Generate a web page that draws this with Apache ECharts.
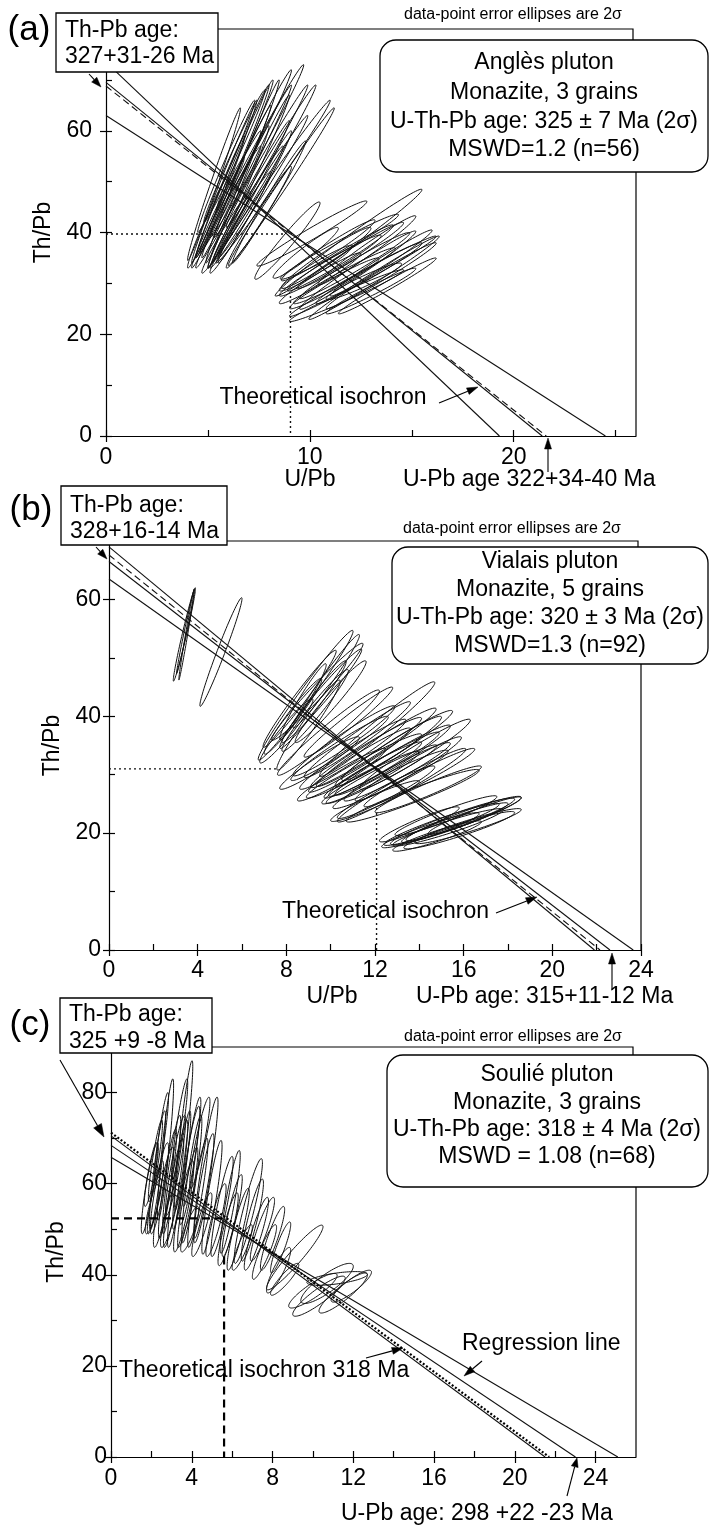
<!DOCTYPE html>
<html><head><meta charset="utf-8">
<script src="https://cdn.jsdelivr.net/npm/echarts/dist/echarts.min.js"></script>
<style>html,body{margin:0;padding:0;background:#fff;}#c{width:710px;height:1526px;}</style>
</head><body><div id="c"></div>
<script>
// ---------- DATA ----------
// error ellipses: [U/Pb centre, Th/Pb centre, U/Pb half-extent, Th/Pb half-extent, correlation]
const ellipsesA = [
 [5.3,49.5,1.3,15,0.99],[5.8,50,1.6,16,0.993],[6.2,52,1.8,17,0.993],[6.7,52,1.8,18,0.993],
 [7.4,56,2.3,17,0.994],[7.0,50,2.0,17,0.993],[6.5,47,1.5,14,0.99],[7.8,52,2.5,17,0.994],
 [8.2,50,2.8,16,0.995],[8.6,49,2.6,15.5,0.995],[6.0,45,1.6,12,0.99],[5.5,44,1.3,11,0.99],
 [6.9,45,1.8,12,0.99],[7.3,47,1.8,13,0.99],[6.3,55,1.5,13,0.99],[7.6,60,1.5,12,0.99],
 [6.8,57,1.4,13,0.99],[5.9,40,1.2,8,0.98],[7.5,43,1.6,10,0.985],[8.0,46,1.8,12,0.99],
 [5.0,42,1.0,9,0.98],[6.6,42,1.5,10,0.985],[5.6,47,1.2,12,0.99],[7.2,54,1.9,15,0.993],
 [6.4,50,1.7,15,0.993],[7.1,48,1.9,14,0.993],[5.9,53,1.4,13,0.99],[7.9,55,2.0,14,0.993],
 [6.1,48,1.5,12,0.99],[7.7,49,2.2,14,0.993],
 [8.9,38.4,1.6,7.6,0.97],[11.9,38,3.6,10.5,0.99],[12.6,31.4,3.6,7.9,0.99],[10.1,39.8,2.7,6.4,0.98],
 [11.45,37.2,2.9,6.4,0.98],[12.35,32.6,2.85,7.7,0.985],[13.15,31.1,3.2,8.2,0.99],[12.65,30.4,1.85,3.6,0.95],
 [11.8,27.6,2.8,5.1,0.98],[10.8,35,2.2,6,0.97],[11,33.5,2.5,6,0.975],[10.5,31,2.0,5,0.97],
 [12.0,35.5,2.6,6.5,0.98],[13.5,34,2.5,6.5,0.985],[9.8,36,1.6,5,0.96],[11.2,30,2.2,5,0.97],
 [13.8,29.5,2.4,5.5,0.985],[12.8,36.5,2.4,6.8,0.98],[10.3,33,1.8,4.5,0.96],[13.0,28.5,2.2,4.5,0.975],
 [11.5,35,2.6,6.5,0.98],[12.2,33.5,2.7,6.5,0.98],[10.9,36.5,2.3,6,0.975],[12.9,32,2.6,6,0.98],
 [11.7,31.5,2.5,5.5,0.975],[13.5,31.5,2.7,6.5,0.985]
];
const ellipsesB = [
 [3.4,54,0.5,8,0.98],[3.45,54.5,0.4,7.2,0.99],[3.5,54,0.35,7.8,0.99],[5.05,51,0.95,9.3,0.98],
 [8.87,43.6,2.14,11.1,0.985],[8.6,43,1.65,8.3,0.98],[9.4,44.2,2.06,8.3,0.98],[9.0,38.5,1.43,7.7,0.97],
 [8.75,42.5,1.05,6.5,0.97],[9.8,46,1.5,8,0.98],[8.3,40,1.3,6.5,0.97],[9.3,41,1.5,7,0.97],
 [10.0,42.5,1.6,7,0.97],[8.0,37.5,1.2,5.5,0.96],[9.2,42,1.5,7.5,0.975],[9.6,43.5,1.8,8,0.98],
 [12.1,37.8,2.6,8.1,0.98],[12.06,34.7,2.7,6.7,0.975],[9.9,37.2,2.3,7.3,0.975],[12.3,30.1,2.5,5.0,0.97],
 [13.2,28.2,2.9,6.3,0.975],[13.7,26.4,3.0,4.5,0.96],[11.0,33.5,2.4,6,0.97],[11.5,31.5,2.6,5.5,0.97],
 [12.8,32.5,2.6,6,0.97],[11.2,36,2.4,6.5,0.975],[13.5,31,2.4,5.5,0.97],[10.5,30,2.0,4.5,0.96],
 [12.5,27,2.2,4.5,0.96],[13.0,35,2.5,6,0.97],[10.4,34.5,2.2,5.5,0.97],[11.8,29.5,2.2,4.5,0.96],
 [14.0,29.5,2.5,5,0.97],[12.0,25.5,2.0,3.5,0.95],[9.5,32,1.8,4.5,0.96],[13.8,33.5,2.5,6,0.97],
 [14.4,27.5,2.4,4,0.96],[10.8,39,2.0,6,0.975],[11.6,33.8,2.5,6,0.97],[12.4,31.8,2.5,5.5,0.97],
 [12.7,29.2,2.6,5,0.965],[11.3,32.5,2.3,5.5,0.97],[13.0,30.5,2.4,5,0.965],[10.6,35.8,2.3,6,0.97],
 [12.6,34,2.4,6,0.97],[11.9,30.8,2.2,4.8,0.965],
 [15.0,21.5,2.6,3.6,0.95],[15.5,22,2.8,4,0.95],[16.0,22.5,2.6,3.8,0.95],[14.5,20.5,2.2,3.0,0.94],
 [15.8,20.5,2.5,3.2,0.94],[16.5,23,2.1,3.2,0.95],[14.8,19.5,2.0,2.6,0.93],[15.2,23,2.3,3.4,0.95],
 [16.2,21.2,2.4,3.0,0.94],[14.0,21.5,1.8,3.0,0.94],[15.3,21,2.5,3.2,0.94],[15.6,21.8,2.4,3.4,0.95]
];
const ellipsesC = [
 [3.6,70.6,0.45,16.4,0.92],[2.7,67.5,0.4,15.5,0.9],[2.3,63,0.4,13,0.9],[1.9,59,0.4,10,0.88],
 [3.0,62,0.45,13,0.9],[4.7,63.5,0.6,15.5,0.92],[3.3,60,0.5,14,0.9],[2.6,57,0.5,11,0.88],
 [4.0,61,0.5,14,0.9],[3.2,64,0.5,11,0.9],[2.1,55,0.4,6,0.85],[4.3,58,0.5,12,0.9],
 [5.0,57,0.5,12.5,0.9],[3.6,55,0.5,10,0.88],[2.9,53,0.45,7,0.85],[5.5,55,0.55,11,0.9],
 [5.9,56,0.5,11.3,0.9],[6.8,54,0.7,11.5,0.92],[6.3,50,0.55,9,0.9],[5.8,50,0.5,8,0.88],
 [7.2,49,0.6,8,0.9],[8.0,48,0.6,7,0.9],[8.4,46,0.5,5.6,0.9],[9.1,43.8,1.4,7.1,0.95],
 [7.6,45,0.6,6,0.9],[4.5,51,0.5,7,0.88],[3.9,50,0.45,5,0.85],[6.5,46,0.5,5,0.88],
 [4.0,67,0.45,12,0.9],[2.5,70,0.35,10,0.9],[3.8,57,0.5,11,0.9],[7.0,52,0.55,9,0.9],
 [2.2,65,0.35,9,0.9],[3.4,72,0.4,11,0.9],[4.4,69,0.5,10,0.9],[2.0,62,0.35,7,0.88],
 [2.8,60,0.45,12,0.9],[3.5,63,0.45,13,0.9],[2.4,59,0.45,10,0.88],[3.1,58,0.5,12,0.9],
 [3.9,64,0.5,13,0.9],[2.2,57,0.4,8,0.88],[4.6,59,0.5,12,0.9],[5.2,52,0.5,8,0.88],
 [6.0,53,0.5,9,0.9],[7.5,50,0.6,7,0.9],
 [8.6,39,0.7,3.5,0.9],[10.3,35.3,1.3,4.4,0.9],[11.5,36,1.2,4.4,0.9],[11.2,39.2,1.5,1.5,0.6],
 [10.7,38.1,1.3,4.4,0.85],[10.0,36.5,1.2,3.8,0.88],[11.9,37.5,1.0,3.5,0.88],[8.3,41,0.6,5,0.88]
];
// straight lines: [Th/Pb intercept at U/Pb = 0, U/Pb intercept at Th/Pb = 0]
const linesA = [[73.5,19.3],[69.5,21.4],[63,24.5]];
const isochronA = [68.8,21.6];
const linesB = [[69,21.9],[66.5,22.6],[63.5,23.65]];
const isochronB = [67.6,22.15];
const linesC = [[70.5,21.5],[68.4,23.0],[65.8,25.1]];
const isochronC = [71.2,21.7];
// guide lines: horizontal [Th/Pb, U/Pb end], vertical [U/Pb, Th/Pb start]
const guideA = {h:[39.7,8.8], v:[9.05,27.5]};
const guideB = {h:[31.0,7.6], v:[12.07,24.3]};
const guideC = {h:[52.4,5.5], v:[5.6,44]};
// tick labels
const xTicksA = [0,10,20], xMinorA = [0,5,10,15,20,25];
const yTicksA = [0,20,40,60], yMinorA = [0,10,20,30,40,50,60,70];
const xTicksB = [0,4,8,12,16,20,24], xMinorB = [0,2,4,6,8,10,12,14,16,18,20,22,24];
const yTicksB = [0,20,40,60], yMinorB = [0,10,20,30,40,50,60];
const xTicksC = [0,4,8,12,16,20,24], xMinorC = [0,2,4,6,8,10,12,14,16,18,20,22,24];
const yTicksC = [0,20,40,60,80], yMinorC = [0,10,20,30,40,50,60,70,80];

// ---------- CHART ----------
const FF = '"Liberation Sans", Arial, Helvetica, sans-serif';
const chart = echarts.init(document.getElementById('c'), null, {renderer:'canvas'});

const grids = [
 {left:106, top:29, width:530, height:407},
 {left:109, top:541, width:532, height:409},
 {left:111, top:1047, width:525, height:410}
];
const axCfg = [
 {xmax:26, ymax:80, xt:xTicksA, xm:xMinorA, yt:yTicksA, ym:yMinorA, xlm:10, ylm:14},
 {xmax:24, ymax:70, xt:xTicksB, xm:xMinorB, yt:yTicksB, ym:yMinorB, xlm:9, ylm:8},
 {xmax:26, ymax:90, xt:xTicksC, xm:xMinorC, yt:yTicksC, ym:yMinorC, xlm:10, ylm:4}
];
const xAxes = [], yAxes = [];
axCfg.forEach((a, gi) => {
  xAxes.push({type:'value', gridIndex:gi, min:0, max:a.xmax, position:'bottom',
    axisLine:{show:true, onZero:false, lineStyle:{color:'#000', width:1.2}},
    axisTick:{show:true, inside:false, length:6, customValues:a.xt, lineStyle:{color:'#000', width:1.2}},
    axisLabel:{show:true, customValues:a.xt, margin:a.xlm, fontSize:23, color:'#000', fontFamily:FF},
    splitLine:{show:false}});
  xAxes.push({type:'value', gridIndex:gi, min:0, max:a.xmax, position:'bottom',
    axisLine:{show:false}, axisLabel:{show:false}, splitLine:{show:false},
    axisTick:{show:true, inside:true, length:6, customValues:a.xm, lineStyle:{color:'#000', width:1.2}}});
  yAxes.push({type:'value', gridIndex:gi, min:0, max:a.ymax, position:'left',
    name:'Th/Pb', nameLocation:'middle', nameGap:43,
    nameTextStyle:{fontSize:23, color:'#000', fontFamily:FF},
    axisLine:{show:true, onZero:false, lineStyle:{color:'#000', width:1.2}},
    axisTick:{show:true, inside:false, length:6, customValues:a.yt, lineStyle:{color:'#000', width:1.2}},
    axisLabel:{show:true, customValues:a.yt, margin:a.ylm, fontSize:23, color:'#000', fontFamily:FF},
    splitLine:{show:false}});
  yAxes.push({type:'value', gridIndex:gi, min:0, max:a.ymax, position:'left',
    axisLine:{show:false}, axisLabel:{show:false}, splitLine:{show:false},
    axisTick:{show:true, inside:true, length:6, customValues:a.ym, lineStyle:{color:'#000', width:1.2}}});
});

function renderEllipse(params, api) {
  const cx = api.value(0), cy = api.value(1), sx = api.value(2), sy = api.value(3), r = api.value(4);
  const q = Math.sqrt(Math.max(0, 1 - r * r));
  const pts = [];
  const N = 90;
  for (let i = 0; i < N; i++) {
    const t = i / N * 2 * Math.PI;
    pts.push(api.coord([cx + sx * Math.cos(t), cy + sy * (r * Math.cos(t) + q * Math.sin(t))]));
  }
  return {type:'polygon', shape:{points:pts}, style:{fill:'none', stroke:'#111', lineWidth:1}};
}

const series = [];
function ellSeries(data, gi) {
  series.push({type:'custom', xAxisIndex:2*gi, yAxisIndex:2*gi, data:data, renderItem:renderEllipse,
    silent:true, clip:true, z:2, animation:false});
}
function seg(gi, p0, p1, style) {
  series.push({type:'line', xAxisIndex:2*gi, yAxisIndex:2*gi, data:[p0, p1], symbol:'none',
    silent:true, animation:false, z:3, lineStyle:style});
}
ellSeries(ellipsesA, 0); ellSeries(ellipsesB, 1); ellSeries(ellipsesC, 2);
const solid = {color:'#111', width:1.1, type:'solid'};
[[linesA, isochronA, guideA, {color:'#111', width:1.1, type:[7,4]}, {color:'#111', width:1.4, type:[2,3]}],
 [linesB, isochronB, guideB, {color:'#111', width:1.1, type:[7,4]}, {color:'#111', width:1.4, type:[2,3]}],
 [linesC, isochronC, guideC, {color:'#000', width:2.2, type:[2,2]}, {color:'#000', width:2.2, type:[8,5]}]
].forEach((p, gi) => {
  p[0].forEach(l => seg(gi, [0, l[0]], [l[1], 0], solid));
  seg(gi, [0, p[1][0]], [p[1][1], 0], p[3]);
  seg(gi, [0, p[2].h[0]], [p[2].h[1], p[2].h[0]], p[4]);
  seg(gi, [p[2].v[0], p[2].v[1]], [p[2].v[0], 0], p[4]);
});

// ---------- ANNOTATIONS ----------
const G = [];
function txt(x, y, s, size, align, opt) {
  G.push(Object.assign({type:'text', x:x, y:y, z:110, style:{text:s, fill:'#000',
    font:size + 'px ' + FF, align:align || 'center', verticalAlign:'middle'}}, opt || {}));
}
function box(x, y, w, h, r) {
  G.push({type:'rect', z:105, shape:{x:x, y:y, width:w, height:h, r:r || 0},
    style:{fill:'#fff', stroke:'#000', lineWidth:1.3}});
}
function poly(pts) {
  G.push({type:'polyline', z:104, shape:{points:pts}, style:{stroke:'#000', lineWidth:1.2, fill:null}});
}
function arrow(x1, y1, x2, y2, L, W) {
  L = L || 11; W = W || 3.5;
  const a = Math.atan2(y2 - y1, x2 - x1);
  const bx = x2 - L * Math.cos(a), by = y2 - L * Math.sin(a);
  const px = -Math.sin(a) * W, py = Math.cos(a) * W;
  G.push({type:'line', z:106, shape:{x1:x1, y1:y1, x2:bx, y2:by}, style:{stroke:'#000', lineWidth:1.1}});
  G.push({type:'polygon', z:106, shape:{points:[[x2, y2], [bx + px, by + py], [bx - px, by - py]]},
    style:{fill:'#000', stroke:'#000', lineWidth:0.5}});
}
// panel a
poly([[218,29],[633,29],[633,40]]); poly([[636,172],[636,436]]);
box(56,13,162,59); box(380,40,328,132,16);
txt(29,30,'(a)',35); txt(65,31,'Th-Pb age:',23,'left'); txt(65,57,'327+31-26 Ma',23,'left');
txt(513,15,'data-point error ellipses are 2σ',16);
txt(544,63,'Anglès pluton',23); txt(544,93,'Monazite, 3 grains',23);
txt(544,122,'U-Th-Pb age: 325 ± 7 Ma (2σ)',23); txt(544,150,'MSWD=1.2 (n=56)',23);
txt(323,398,'Theoretical isochron',23); txt(310,480,'U/Pb',23); txt(403,480,'U-Pb age 322+34-40 Ma',23,'left');
arrow(89,74,101,87,10,3.5); arrow(439,403,478,387); arrow(548,472,548,438);
// panel b
poly([[227,541],[638,541],[638,547]]); poly([[641,664],[641,950]]);
box(61,486,166,59); box(392,547,316,117,16);
txt(31,510,'(b)',35); txt(70,506,'Th-Pb age:',23,'left'); txt(70,532,'328+16-14 Ma',23,'left');
txt(512,529,'data-point error ellipses are 2σ',16);
txt(550,562,'Vialais pluton',23); txt(550,590,'Monazite, 5 grains',23);
txt(550,618,'U-Th-Pb age: 320 ± 3 Ma (2σ)',23); txt(550,646,'MSWD=1.3 (n=92)',23);
txt(282,912,'Theoretical isochron',23,'left'); txt(332,997,'U/Pb',23); txt(416,997,'U-Pb age: 315+11-12 Ma',23,'left');
arrow(96,547,107,559,10,3.5); arrow(496,913,537,897); arrow(612,990,612,953);
// panel c
poly([[212,1047],[633,1047],[633,1055]]); poly([[636,1187],[636,1457]]);
box(60,998,152,55); box(387,1055,321,132,16);
txt(30,1025,'(c)',35); txt(69,1015,'Th-Pb age:',23,'left'); txt(69,1042,'325 +9 -8 Ma',23,'left');
txt(513,1037,'data-point error ellipses are 2σ',16);
txt(547,1075,'Soulié pluton',23); txt(547,1103,'Monazite, 3 grains',23);
txt(547,1130,'U-Th-Pb age: 318 ± 4 Ma (2σ)',23); txt(547,1157,'MSWD = 1.08 (n=68)',23);
txt(462,1344,'Regression line',23,'left'); txt(119,1371,'Theoretical isochron 318 Ma',23,'left');
txt(341,1514,'U-Pb age: 298 +22 -23 Ma',23,'left');
arrow(60,1060,104,1137,13,4.5); arrow(482,1361,464,1376); arrow(366,1358,403,1348);
arrow(567,1496,577,1458,9,3.5);

chart.setOption({
  animation:false,
  backgroundColor:'#fff',
  grid: grids.map(g => Object.assign({containLabel:false, outerBoundsMode:'none'}, g)),
  xAxis: xAxes, yAxis: yAxes,
  series: series,
  graphic: {elements: G}
});
</script></body></html>
